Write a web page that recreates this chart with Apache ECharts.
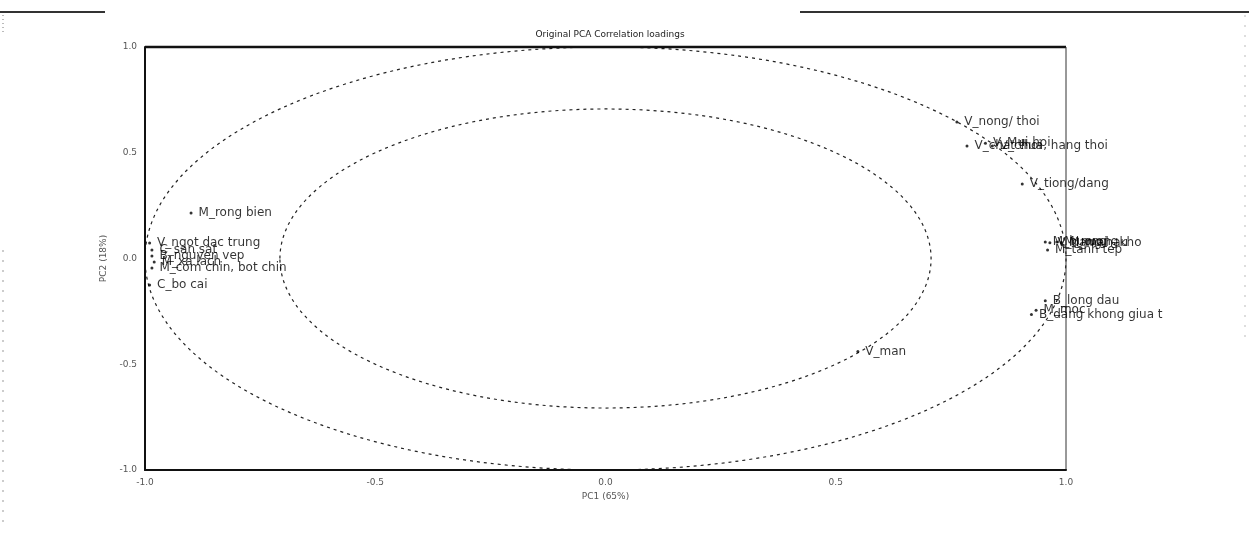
<!DOCTYPE html>
<html>
<head>
<meta charset="utf-8">
<title>Original PCA Correlation loadings</title>
<script src="https://cdn.jsdelivr.net/npm/echarts@6/dist/echarts.min.js"></script>
<style>
html, body { margin: 0; padding: 0; background: #fff; }
#main { width: 1249px; height: 536px; }
</style>
</head>
<body>
<div id="main"></div>
<script>
// thuoc tinh cam quan - ten bien
var pointNames = [
    'M_rong bien', 'V_ngot dac trung', 'C_san sat', 'B_nguyen vep', 'M_xa lach',
    'M_com chin, bot chin', 'C_bo cai',
    'V_nong/ thoi', 'V_chat thoi', 'V_Mui hoi', 'V_chua, hang thoi', 'V_tiong/dang',
    'M_huong', 'V_dang hau', 'M_nuong', 'M_mai - kho', 'M_tanh tep',
    'B_long dau', 'M_moc', 'B_dang khong giua t', 'V_man'
];
// PC1
var pcX = [
    -0.90, -0.99, -0.985, -0.985, -0.98,
    -0.985, -0.99,
    0.763, 0.785, 0.825, 0.84, 0.905,
    0.955, 0.965, 0.98, 0.99, 0.96,
    0.955, 0.935, 0.925, 0.548
];
// PC2
var pcY = [
    0.215, 0.073, 0.04, 0.012, -0.017,
    -0.045, -0.125,
    0.645, 0.532, 0.545, 0.532, 0.352,
    0.078, 0.075, 0.078, 0.076, 0.04,
    -0.20, -0.245, -0.265, -0.44
];
var axisTicks = [-1.0, -0.5, 0.0, 0.5, 1.0];
var circleRadii = [1.0, 0.707];

var chart = echarts.init(document.getElementById('main'), null, { renderer: 'canvas' });

var pts = [];
for (var i = 0; i < pointNames.length; i++) {
    pts.push([pcX[i], pcY[i], pointNames[i]]);
}

var axisLabelStyle = {
    fontSize: 9,
    color: '#555',
    fontFamily: 'DejaVu Sans',
    formatter: function (v) { return v.toFixed(1); }
};

var option = {
    animation: false,
    backgroundColor: '#fff',
    title: {
        text: 'Original PCA Correlation loadings',
        left: 605,
        top: 25,
        textAlign: 'center',
        textStyle: { fontSize: 9, fontWeight: 'normal', color: '#222', fontFamily: 'DejaVu Sans' }
    },
    grid: { left: 145, right: 183, top: 47, bottom: 66 },
    xAxis: {
        type: 'value',
        min: -1, max: 1, interval: 0.5,
        name: 'PC1 (65%)',
        nameLocation: 'middle',
        nameGap: 22,
        nameTextStyle: { fontSize: 9, color: '#555', fontFamily: 'DejaVu Sans' },
        axisLine: { onZero: false, lineStyle: { color: '#111', width: 2 } },
        axisTick: { show: false },
        axisLabel: axisLabelStyle,
        splitLine: { show: false }
    },
    yAxis: {
        type: 'value',
        min: -1, max: 1, interval: 0.5,
        name: 'PC2 (18%)',
        nameLocation: 'middle',
        nameGap: 30,
        nameTextStyle: { fontSize: 9, color: '#555', fontFamily: 'DejaVu Sans' },
        axisLine: { onZero: false, lineStyle: { color: '#111', width: 2 } },
        axisTick: { show: false },
        axisLabel: axisLabelStyle,
        splitLine: { show: false }
    },
    series: [{
        type: 'scatter',
        data: pts,
        symbol: 'circle',
        symbolSize: 3,
        itemStyle: { color: '#000' },
        label: {
            show: true,
            position: 'right',
            distance: 6,
            formatter: function (p) { return p.data[2]; },
            fontSize: 12,
            color: '#000',
            fontFamily: 'DejaVu Sans'
        },
        labelLayout: { hideOverlap: false }
    }]
};
chart.setOption(option);

// vong tron tuong quan + khung
function drawExtras() {
    var c = chart.convertToPixel({ gridIndex: 0 }, [0, 0]);
    var g = [];
    circleRadii.forEach(function (r) {
        var px = chart.convertToPixel({ gridIndex: 0 }, [r, r]);
        g.push({
            type: 'ellipse',
            shape: { cx: c[0], cy: c[1], rx: px[0] - c[0], ry: c[1] - px[1] },
            style: { fill: null, stroke: '#222', lineWidth: 1.2, lineDash: [3, 4] },
            silent: true
        });
    });
    var tl = chart.convertToPixel({ gridIndex: 0 }, [-1, 1]);
    var br = chart.convertToPixel({ gridIndex: 0 }, [1, -1]);
    g.push({ type: 'line', shape: { x1: tl[0], y1: tl[1], x2: br[0], y2: tl[1] }, style: { stroke: '#111', lineWidth: 2.5 }, silent: true });
    g.push({ type: 'line', shape: { x1: br[0], y1: tl[1], x2: br[0], y2: br[1] }, style: { stroke: '#333', lineWidth: 1 }, silent: true });
    // duong cat o tren anh goc
    g.push({ type: 'line', shape: { x1: 0, y1: 12, x2: 105, y2: 12 }, style: { stroke: '#333', lineWidth: 2 }, silent: true });
    g.push({ type: 'line', shape: { x1: 800, y1: 12, x2: 1249, y2: 12 }, style: { stroke: '#333', lineWidth: 2 }, silent: true });
    g.push({ type: 'line', shape: { x1: 3, y1: 15, x2: 3, y2: 32 }, style: { stroke: '#777', lineWidth: 1, lineDash: [1, 3] }, silent: true });
    g.push({ type: 'line', shape: { x1: 3, y1: 250, x2: 3, y2: 525 }, style: { stroke: '#999', lineWidth: 1, lineDash: [2, 8] }, silent: true });
    g.push({ type: 'line', shape: { x1: 1245, y1: 15, x2: 1245, y2: 340 }, style: { stroke: '#bbb', lineWidth: 1, lineDash: [2, 8] }, silent: true });
    chart.setOption({ graphic: g });
}
drawExtras();
</script>
</body>
</html>
